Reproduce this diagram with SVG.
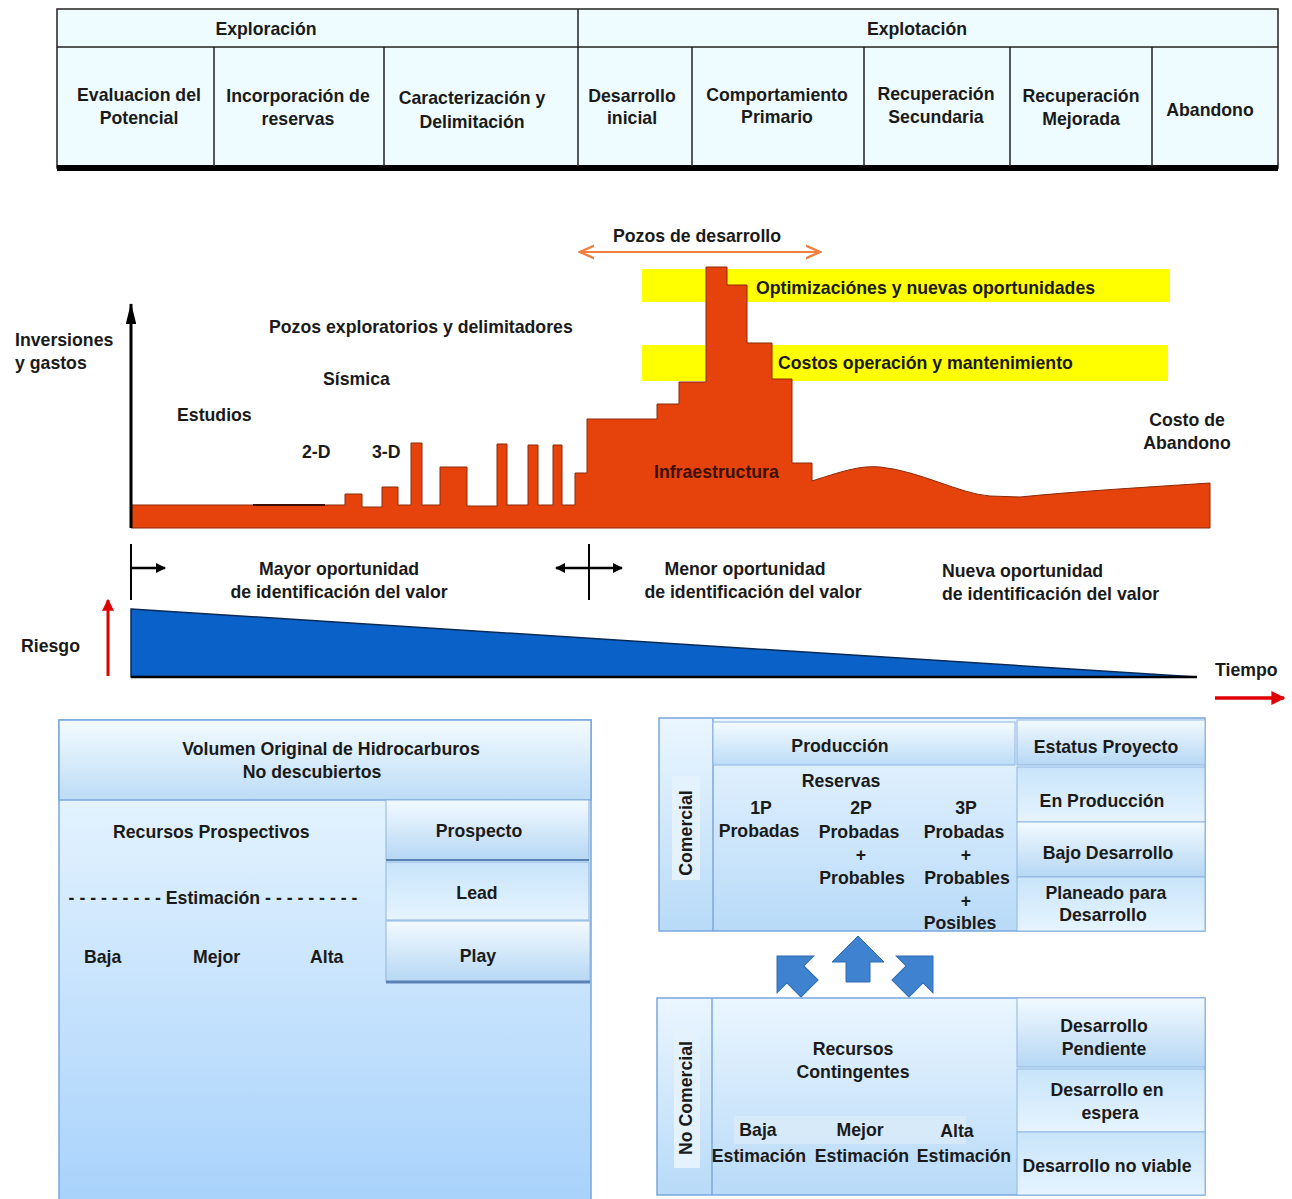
<svg xmlns="http://www.w3.org/2000/svg" width="1292" height="1199" viewBox="0 0 1292 1199">
<defs>
<style>
text{font-family:"Liberation Sans Narrow","Liberation Sans",Arial,sans-serif;font-weight:bold;font-size:17.7px;fill:#1a1a1a}
.c{text-anchor:middle}
.cell{fill:#eefcff;stroke:#222;stroke-width:1.5}
.pan{stroke:#7aa7dc;stroke-width:1.5}
.sub{stroke:#8fb5e0;stroke-width:1}
</style>
<linearGradient id="gHead" x1="0" y1="0" x2="0" y2="1"><stop offset="0" stop-color="#f4fbff"/><stop offset="1" stop-color="#bcdcf6"/></linearGradient>
<linearGradient id="gBody" x1="0" y1="0" x2="0" y2="1"><stop offset="0" stop-color="#eef9ff"/><stop offset="1" stop-color="#a8d2fb"/></linearGradient>
<linearGradient id="gBox" x1="0" y1="0" x2="0" y2="1"><stop offset="0" stop-color="#f2faff"/><stop offset="1" stop-color="#b6d7f4"/></linearGradient>
<linearGradient id="gBox2" x1="0" y1="0" x2="0" y2="1"><stop offset="0" stop-color="#c8e4fa"/><stop offset="1" stop-color="#e6f4ff"/></linearGradient>
<linearGradient id="gPan" x1="0" y1="0" x2="0" y2="1"><stop offset="0" stop-color="#eaf6ff"/><stop offset="1" stop-color="#b8daf8"/></linearGradient>
<marker id="mBlk" viewBox="0 0 20 10" refX="19" refY="5" markerWidth="7" markerHeight="3.5" orient="auto-start-reverse"><path d="M0,0 L20,5 L0,10 Z" fill="#000"/></marker>
<marker id="mBlk2" viewBox="0 0 10 10" refX="9" refY="5" markerWidth="4" markerHeight="4" orient="auto-start-reverse"><path d="M0,0 L10,5 L0,10 Z" fill="#000"/></marker>
<marker id="mRed" viewBox="0 0 10 10" refX="9" refY="5" markerWidth="4" markerHeight="4" orient="auto-start-reverse"><path d="M0,0 L10,5 L0,10 Z" fill="#e00000"/></marker>
<marker id="mOr" viewBox="0 0 10 10" refX="9" refY="5" markerWidth="8" markerHeight="8" orient="auto-start-reverse"><path d="M0,1 L9,5 L0,9" fill="none" stroke="#f08040" stroke-width="1.5"/></marker>
<path id="blk" d="M-12,22 L-12,2 L-26,2 L0,-24 L26,2 L12,2 L12,22 Z" fill="#3f82cf" stroke="#2f6bb0" stroke-width="1"/>
</defs>

<!-- Top table -->
<g id="phase-table">
<rect x="57" y="9" width="1221" height="159" class="cell"/>
<line x1="57" y1="47" x2="1278" y2="47" stroke="#222" stroke-width="1.5"/>
<rect x="57" y="165" width="1221" height="6" fill="#000"/>
<g stroke="#222" stroke-width="1.5">
<line x1="578" y1="9" x2="578" y2="166"/>
<line x1="214" y1="47" x2="214" y2="166"/>
<line x1="384" y1="47" x2="384" y2="166"/>
<line x1="692" y1="47" x2="692" y2="166"/>
<line x1="864" y1="47" x2="864" y2="166"/>
<line x1="1010" y1="47" x2="1010" y2="166"/>
<line x1="1152" y1="47" x2="1152" y2="166"/>
</g>
<text x="266" y="35" class="c">Exploración</text>
<text x="917" y="35" class="c">Explotación</text>
<text x="139" y="101" class="c">Evaluacion del</text>
<text x="139" y="124" class="c">Potencial</text>
<text x="298" y="102" class="c">Incorporación de</text>
<text x="298" y="125" class="c">reservas</text>
<text x="472" y="104" class="c">Caracterización y</text>
<text x="472" y="128" class="c">Delimitación</text>
<text x="632" y="102" class="c">Desarrollo</text>
<text x="632" y="124" class="c">inicial</text>
<text x="777" y="101" class="c">Comportamiento</text>
<text x="777" y="123" class="c">Primario</text>
<text x="936" y="100" class="c">Recuperación</text>
<text x="936" y="123" class="c">Secundaria</text>
<text x="1081" y="102" class="c">Recuperación</text>
<text x="1081" y="125" class="c">Mejorada</text>
<text x="1210" y="116" class="c">Abandono</text>
</g>

<!-- Investment chart -->
<g id="chart">
<rect x="642" y="269" width="528" height="33" fill="#ffff00"/>
<rect x="642" y="345" width="526" height="36" fill="#ffff00"/>
<path d="M131,528 L131,505 L345,505 L345,494 L362,494 L362,507 L382,507 L382,487 L398,487 L398,505 L411,505 L411,443 L422,443 L422,505 L440,505 L440,467 L467,467 L467,506 L497,506 L497,444 L507,444 L507,505 L528,505 L528,445 L538,445 L538,505 L553,505 L553,445 L562,445 L562,505 L575,505 L575,473 L587,473 L587,419 L657,419 L657,404 L679,404 L679,382 L706,382 L706,267 L727,267 L727,285 L747,285 L747,343 L772,343 L772,379 L792,379 L792,463 L812,463 L812,481 C840,472 860,465 880,467 C920,471 960,494 990,496 L1020,497 C1080,491 1150,487 1210,483 L1210,528 Z" fill="#e6420b" stroke="#8a2a08" stroke-width="1"/>
<line x1="253" y1="505" x2="325" y2="505" stroke="#3a1005" stroke-width="2"/>
<line x1="131" y1="528" x2="131" y2="304" stroke="#000" stroke-width="3" marker-end="url(#mBlk)"/>
<text x="15" y="346">Inversiones</text>
<text x="15" y="369">y gastos</text>
<text x="269" y="333">Pozos exploratorios y delimitadores</text>
<text x="323" y="385">Sísmica</text>
<text x="177" y="421">Estudios</text>
<text x="302" y="458">2-D</text>
<text x="372" y="458">3-D</text>
<text x="697" y="242" class="c">Pozos de desarrollo</text>
<line x1="580" y1="252" x2="820" y2="252" stroke="#f08040" stroke-width="2" marker-start="url(#mOr)" marker-end="url(#mOr)"/>
<text x="756" y="294">Optimizaciónes y nuevas oportunidades</text>
<text x="778" y="369">Costos operación y mantenimiento</text>
<text x="654" y="478" style="fill:#3a1005">Infraestructura</text>
<text x="1187" y="426" class="c">Costo de</text>
<text x="1187" y="449" class="c">Abandono</text>
</g>

<!-- Risk section -->
<g id="risk">
<line x1="131" y1="544" x2="131" y2="600" stroke="#000" stroke-width="2"/>
<line x1="131" y1="568" x2="165" y2="568" stroke="#000" stroke-width="2.5" marker-end="url(#mBlk2)"/>
<line x1="589" y1="544" x2="589" y2="600" stroke="#000" stroke-width="2"/>
<line x1="556" y1="568" x2="622" y2="568" stroke="#000" stroke-width="2.5" marker-start="url(#mBlk2)" marker-end="url(#mBlk2)"/>
<text x="339" y="575" class="c">Mayor oportunidad</text>
<text x="339" y="598" class="c">de identificación del valor</text>
<text x="745" y="575" class="c">Menor oportunidad</text>
<text x="753" y="598" class="c">de identificación del valor</text>
<text x="942" y="577">Nueva oportunidad</text>
<text x="942" y="600">de identificación del valor</text>
<path d="M131,609 L1197,677 L131,677 Z" fill="#0a62c8" stroke="#0a2a55" stroke-width="1.5"/>
<line x1="131" y1="677" x2="1197" y2="677" stroke="#000" stroke-width="2.5"/>
<line x1="108" y1="676" x2="108" y2="600" stroke="#e00000" stroke-width="3" marker-end="url(#mRed)"/>
<text x="21" y="652">Riesgo</text>
<text x="1215" y="676">Tiempo</text>
<line x1="1215" y1="698" x2="1284" y2="698" stroke="#e00000" stroke-width="3.5" marker-end="url(#mRed)"/>
</g>

<!-- Bottom-left panel -->
<g id="prospective">
<rect x="59" y="720" width="532" height="485" fill="url(#gBody)" class="pan"/>
<rect x="59" y="720" width="532" height="80" fill="url(#gHead)" class="pan"/>
<text x="331" y="755" class="c">Volumen Original de Hidrocarburos</text>
<text x="312" y="778" class="c">No descubiertos</text>
<text x="113" y="838">Recursos Prospectivos</text>
<text x="213" y="904" class="c">- - - - - - - - - Estimación - - - - - - - - -</text>
<text x="84" y="963">Baja</text>
<text x="193" y="963">Mejor</text>
<text x="310" y="963">Alta</text>
</g>
<g id="prospecto">
<rect x="386" y="800" width="203" height="60" fill="url(#gBox)" class="sub"/>
<line x1="386" y1="860" x2="589" y2="860" stroke="#5a82b4" stroke-width="2"/>
<text x="479" y="837" class="c">Prospecto</text>
</g>
<g id="lead">
<rect x="386" y="862" width="203" height="58" fill="url(#gBox2)" class="sub"/>
<text x="477" y="899" class="c">Lead</text>
</g>
<g id="play">
<rect x="386" y="921" width="204" height="61" fill="url(#gBox)" class="sub"/>
<line x1="386" y1="982" x2="590" y2="982" stroke="#5a82b4" stroke-width="3"/>
<text x="478" y="962" class="c">Play</text>
</g>

<!-- Bottom-right commercial panel -->
<g id="comercial">
<rect x="659" y="718" width="546" height="213" fill="url(#gPan)" class="pan"/>
<line x1="713" y1="718" x2="713" y2="931" stroke="#7aa7dc" stroke-width="1.5"/>
<rect x="672" y="776" width="28" height="104" fill="#e4f2fd"/>
<text transform="translate(692,833) rotate(-90)" class="c">Comercial</text>
<rect x="713" y="722" width="302" height="43" fill="url(#gHead)" class="sub"/>
<text x="840" y="752" class="c">Producción</text>
<text x="841" y="787" class="c">Reservas</text>
<text x="761" y="814" class="c">1P</text>
<text x="759" y="837" class="c">Probadas</text>
<text x="861" y="814" class="c">2P</text>
<text x="859" y="838" class="c">Probadas</text>
<text x="861" y="861" class="c">+</text>
<text x="862" y="884" class="c">Probables</text>
<text x="966" y="814" class="c">3P</text>
<text x="964" y="838" class="c">Probadas</text>
<text x="966" y="861" class="c">+</text>
<text x="967" y="884" class="c">Probables</text>
<text x="966" y="907" class="c">+</text>
<text x="960" y="929" class="c">Posibles</text>
</g>
<g id="estatus">
<rect x="1017" y="720" width="188" height="45" fill="url(#gBox)" class="sub"/>
<text x="1106" y="753" class="c">Estatus Proyecto</text>
</g>
<g id="en-produccion">
<rect x="1017" y="767" width="188" height="55" fill="url(#gBox2)" class="sub"/>
<text x="1102" y="807" class="c">En Producción</text>
</g>
<g id="bajo-desarrollo">
<rect x="1017" y="822" width="188" height="55" fill="url(#gBox)" class="sub"/>
<text x="1108" y="859" class="c">Bajo Desarrollo</text>
</g>
<g id="planeado">
<rect x="1017" y="877" width="188" height="54" fill="url(#gBox2)" class="sub"/>
<text x="1106" y="899" class="c">Planeado para</text>
<text x="1103" y="921" class="c">Desarrollo</text>
</g>

<!-- connectors -->
<g id="connectors">
<use href="#blk" transform="translate(794,973) rotate(-45)"/>
<use href="#blk" transform="translate(858,960)"/>
<use href="#blk" transform="translate(916,973) rotate(45)"/>
</g>

<!-- Bottom-right non-commercial panel -->
<g id="no-comercial">
<rect x="657" y="998" width="548" height="197" fill="url(#gPan)" class="pan"/>
<line x1="712" y1="998" x2="712" y2="1195" stroke="#7aa7dc" stroke-width="1.5"/>
<rect x="674" y="1028" width="26" height="140" fill="#e4f2fd"/>
<text transform="translate(692,1098) rotate(-90)" class="c">No Comercial</text>
<text x="853" y="1055" class="c">Recursos</text>
<text x="853" y="1078" class="c">Contingentes</text>
<rect x="734" y="1116" width="232" height="28" fill="#dcecfa" opacity="0.7"/>
<text x="758" y="1136" class="c">Baja</text>
<text x="860" y="1136" class="c">Mejor</text>
<text x="957" y="1137" class="c">Alta</text>
<text x="759" y="1162" class="c">Estimación</text>
<text x="862" y="1162" class="c">Estimación</text>
<text x="964" y="1162" class="c">Estimación</text>
</g>
<g id="pendiente">
<rect x="1017" y="998" width="188" height="69" fill="url(#gBox)" class="sub"/>
<text x="1104" y="1032" class="c">Desarrollo</text>
<text x="1104" y="1055" class="c">Pendiente</text>
</g>
<g id="espera">
<rect x="1017" y="1069" width="188" height="63" fill="url(#gBox2)" class="sub"/>
<text x="1107" y="1096" class="c">Desarrollo en</text>
<text x="1110" y="1119" class="c">espera</text>
</g>
<g id="no-viable">
<rect x="1017" y="1132" width="188" height="63" fill="url(#gBox2)" class="sub"/>
<text x="1107" y="1172" class="c">Desarrollo no viable</text>
</g>
</svg>
